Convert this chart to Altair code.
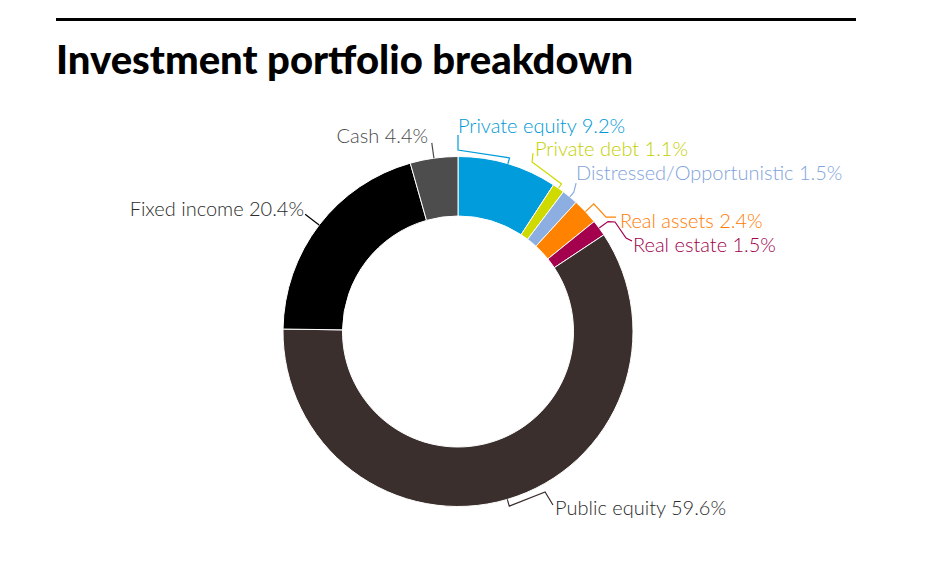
import numpy as np
import pandas as pd
import altair as alt

# dados da carteira (sentido horário a partir das 12h)
nomes = ["Private equity", "Private debt", "Distressed/Opportunistic", "Real assets",
         "Real estate", "Public equity", "Fixed income", "Cash"]
valores = [9.2, 1.1, 1.5, 2.4, 1.5, 59.6, 20.4, 4.4]

cores_fatia = ["#009cdb", "#cfda00", "#8daee0", "#ff8300", "#a5004e", "#3a2f2c", "#000000", "#4d4d4d"]
cores_texto = ["#0098d6", "#c4d000", "#7fa3dc", "#ff7c00", "#a0004c", "#2b2b2b", "#2b2b2b", "#4a4a4a"]

# layout dos rótulos: caminho da linha guia (ângulo em graus ou "mid", raio relativo ao raio externo)
# e posição do texto (ângulo, raio, alinhamento)
layout = {
    "Private equity": {"path": [("mid", 1.0), ("mid", 1.035), (0.0, 1.037), (0.0, 1.123)],
                       "label": (0.0, 1.134, "left")},
    "Private debt": {"path": [("mid", 1.0), ("mid", 1.03), (23.6, 1.057), (22.8, 1.106)],
                     "label": (23.7, 1.095, "left")},
    "Distressed/Opportunistic": {"path": [("mid", 1.0), ("mid", 1.035), (38.5, 1.084)],
                                 "label": (37.9, 1.097, "left")},
    "Real assets": {"path": [("mid", 1.0), ("mid", 1.065), (52.3, 1.069), (54.1, 1.115)],
                    "label": (57.4, 1.098, "left")},
    "Real estate": {"path": [("mid", 1.0), ("mid", 1.063), (55.1, 1.094), (60.9, 1.099), (62.5, 1.121)],
                    "label": (65.6, 1.098, "left")},
    "Public equity": {"path": [("mid", 1.0), ("mid", 1.04), (151.5, 1.043), (151.3, 1.13)],
                      "label": (152.1, 1.186, "left")},
    "Fixed income": {"path": [("mid", 1.0), ("mid", 1.101)],
                     "label": (306.9, 1.1, "right")},
    "Cash": {"path": [("mid", 1.0), ("mid", 1.088)],
             "label": (351.0, 1.091, "right")},
}

R_EXT = 175
R_INT = 115.5
W, H = 915, 549
CX, CY = 450, 323.5

total = sum(valores)
inicio = np.cumsum([0] + valores[:-1]) / total * 360
meio = inicio + np.array(valores) / total * 180

df_fatias = pd.DataFrame({"nome": nomes, "valor": valores, "ordem": range(len(nomes))})

linhas, rotulos = [], []
for i, nome in enumerate(nomes):
    for passo, (ang, r) in enumerate(layout[nome]["path"]):
        a = meio[i] if ang == "mid" else ang
        linhas.append({"nome": nome, "passo": passo,
                       "x": r * np.sin(np.radians(a)), "y": r * np.cos(np.radians(a))})
    ang, r, alinh = layout[nome]["label"]
    rotulos.append({"nome": nome, "texto": f"{nome} {valores[i]}%", "alinh": alinh,
                    "cor": cores_texto[i],
                    "x": r * np.sin(np.radians(ang)), "y": r * np.cos(np.radians(ang))})
df_linhas = pd.DataFrame(linhas)
df_rotulos = pd.DataFrame(rotulos)

# escalas em unidades de raio externo, centro do anel em (CX, CY)
esc_x = alt.Scale(domain=[-CX / R_EXT, (W - CX) / R_EXT], nice=False, zero=False)
esc_y = alt.Scale(domain=[-(H - CY) / R_EXT, CY / R_EXT], nice=False, zero=False)
esc_cor = alt.Scale(domain=nomes, range=cores_fatia)

anel = alt.Chart(df_fatias).mark_arc(radius=R_EXT, innerRadius=R_INT, stroke="white", strokeWidth=1).encode(
    theta=alt.Theta("valor:Q", stack=True),
    order=alt.Order("ordem:Q"),
    color=alt.Color("nome:N", scale=esc_cor, legend=None),
    x=alt.X(datum=0, scale=esc_x, axis=None),
    y=alt.Y(datum=0, scale=esc_y, axis=None),
)

guias = alt.Chart(df_linhas).mark_line(strokeWidth=1.2).encode(
    x=alt.X("x:Q", scale=esc_x, axis=None),
    y=alt.Y("y:Q", scale=esc_y, axis=None),
    detail="nome:N",
    order="passo:Q",
    color=alt.Color("nome:N", scale=esc_cor, legend=None),
)

def camada_texto(alinh):
    return alt.Chart(df_rotulos).transform_filter(
        alt.datum.alinh == alinh
    ).mark_text(align=alinh, baseline="alphabetic", font="Lato", fontSize=20, fontWeight=300).encode(
        x=alt.X("x:Q", scale=esc_x, axis=None),
        y=alt.Y("y:Q", scale=esc_y, axis=None),
        text="texto:N",
        color=alt.Color("cor:N", scale=None),
    )

df_titulo = pd.DataFrame({"titulo": ["Investment portfolio breakdown"]})
regua = alt.Chart(df_titulo).mark_rule(color="black", strokeWidth=3).encode(
    x=alt.value(48), x2=alt.value(848), y=alt.value(11.5)
)
titulo = alt.Chart(df_titulo).mark_text(
    align="left", baseline="alphabetic", font="Lato", fontSize=40, fontWeight=900, color="black"
).encode(x=alt.value(48), y=alt.value(65.5), text="titulo:N")

chart = alt.layer(anel, guias, camada_texto("left"), camada_texto("right"), regua, titulo).properties(
    width=W, height=H, autosize=alt.AutoSizeParams(type="none"), padding=0
).configure_view(stroke=None)

chart.save("out.html", embed_options={"renderer": "svg", "actions": False})
